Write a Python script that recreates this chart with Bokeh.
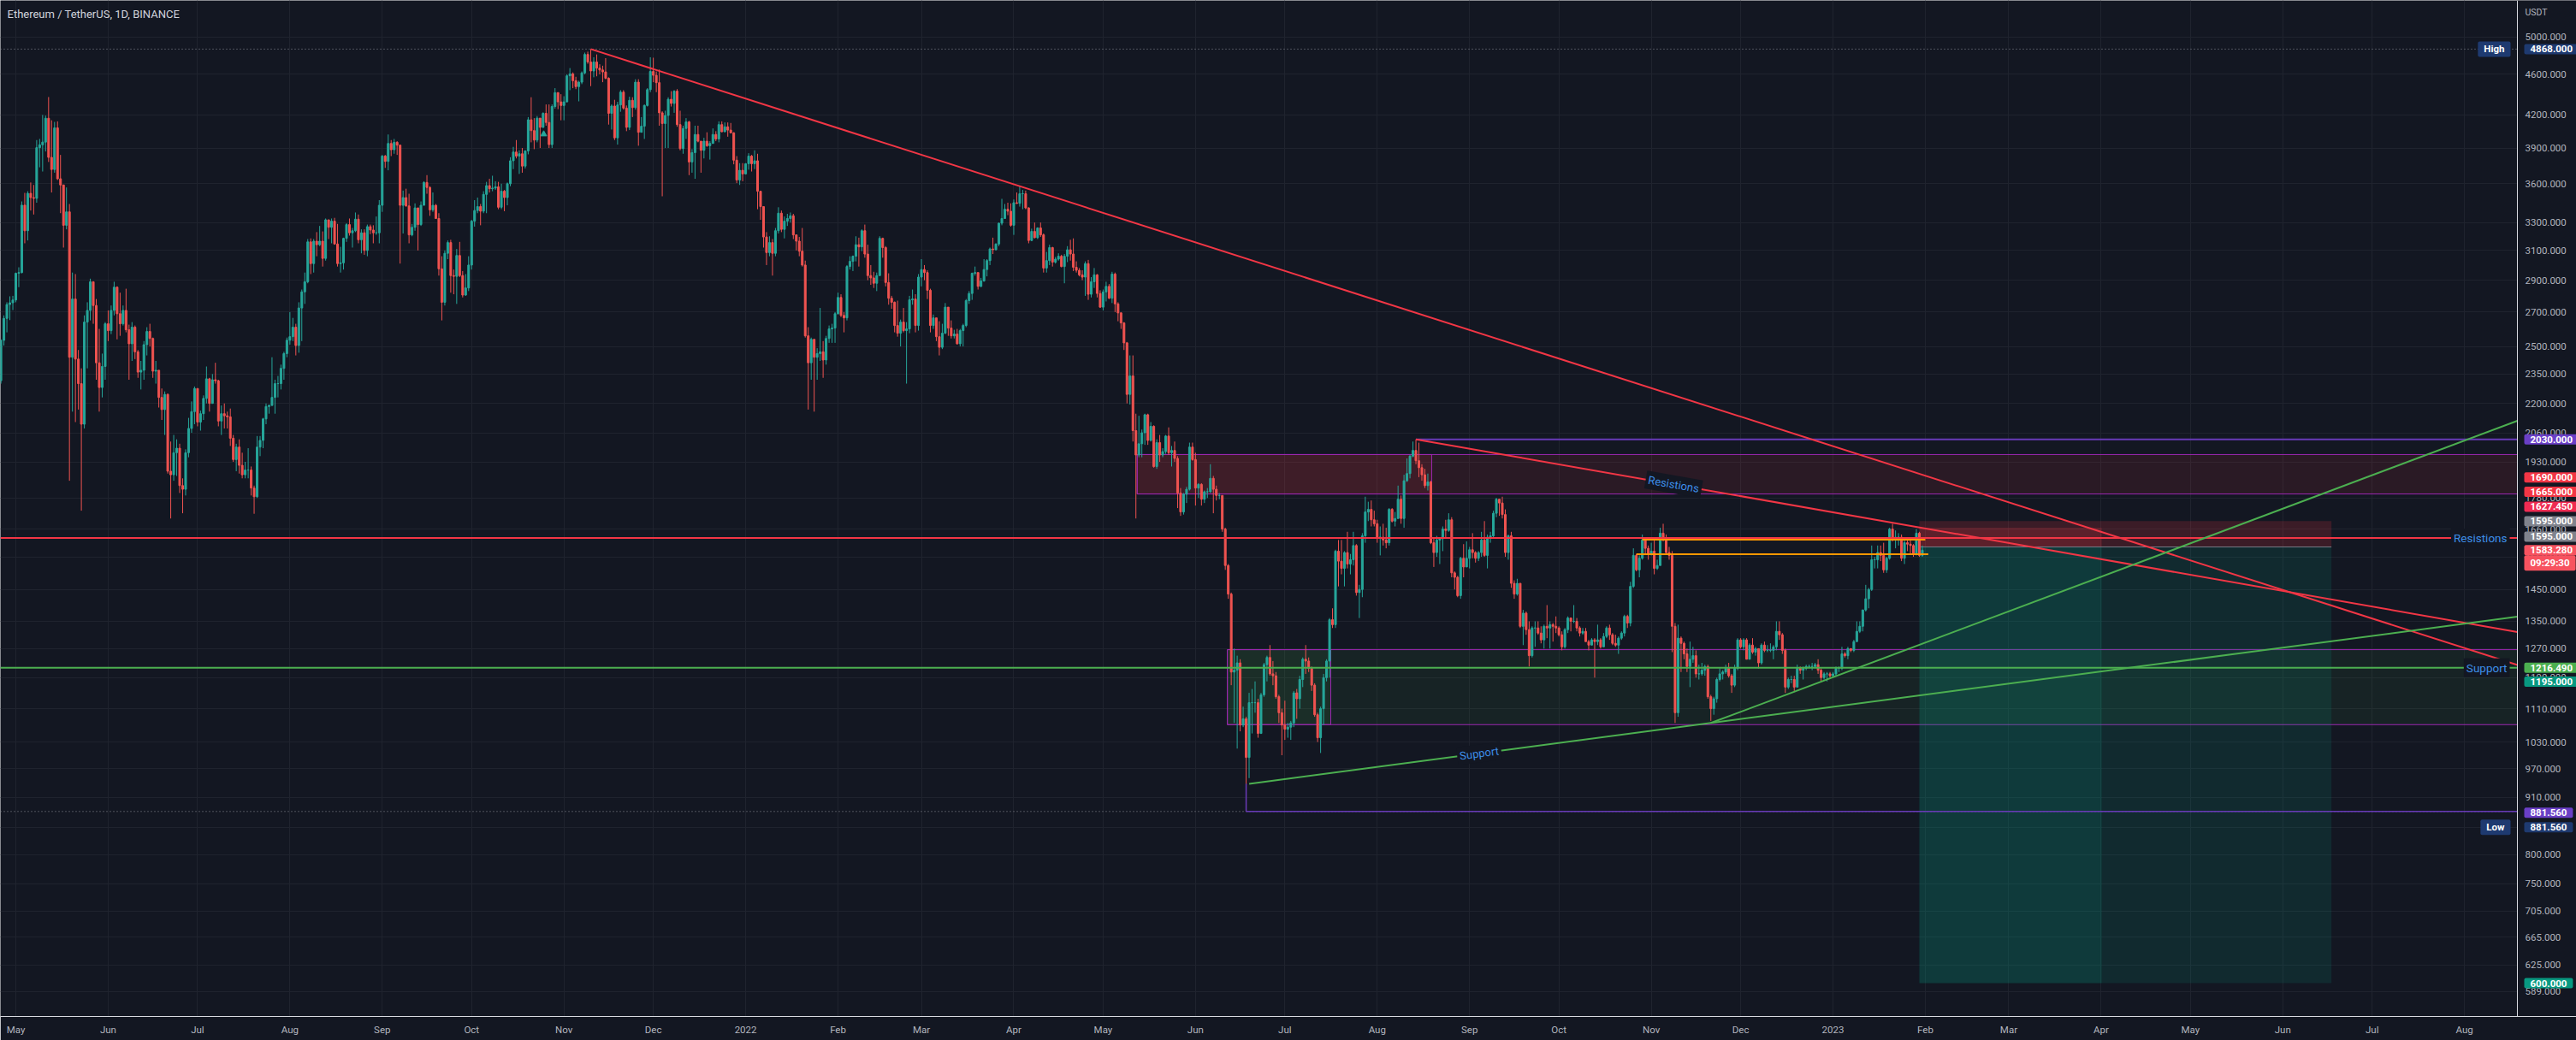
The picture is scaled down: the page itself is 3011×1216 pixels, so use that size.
import numpy as np
import pandas as pd
from bokeh.plotting import figure
from bokeh.models import FixedTicker, NumeralTickFormatter, Label
from bokeh.embed import file_html
from bokeh.resources import INLINE

# ---------------- data (ETH/USDT daily, Binance) ----------------
FIRST_CANDLE = "2021-04-26"
FIRST_OPEN = 2315.0

closes = [
    2534, 2662, 2746, 2757, 2774,  # Apr 2021 (26-30)
    2945, 2950, 3431, 3240, 3523, 3490, 3484, 3903, 3928, 3952, 4169, 3819, 3717, 4080, 3640, 3590, 3280, 3380, 2440, 2780, 2430, 2300, 2100, 2640, 2710, 2890, 2740, 2410, 2280, 2390, 2630,  # May
    2590, 2710, 2855, 2690, 2630, 2710, 2595, 2515, 2610, 2470, 2360, 2370, 2510, 2585, 2545, 2365, 2370, 2230, 2170, 2245, 1890, 1875, 1970, 1990, 1830, 1815, 1970, 2080, 2160, 2275,  # Jun
    2110, 2150, 2225, 2325, 2200, 2320, 2315, 2115, 2150, 2140, 2135, 2035, 1940, 1995, 1915, 1875, 1895, 1895, 1820, 1785, 1995, 2025, 2125, 2185, 2190, 2230, 2300, 2300, 2380, 2460, 2535,  # Jul
    2555, 2610, 2505, 2725, 2825, 2890, 3160, 3010, 3165, 3140, 3165, 3045, 3320, 3265, 3310, 3145, 3010, 3015, 3185, 3285, 3225, 3240, 3325, 3175, 3225, 3100, 3270, 3245, 3225, 3225, 3430,  # Aug
    3830, 3785, 3940, 3885, 3950, 3925, 3430, 3490, 3425, 3210, 3265, 3410, 3285, 3430, 3610, 3570, 3395, 3430, 3330, 2975, 2760, 3080, 3155, 2930, 2925, 3065, 2930, 2805, 2850, 3000,  # Sep
    3310, 3390, 3420, 3385, 3515, 3585, 3560, 3565, 3575, 3415, 3540, 3490, 3600, 3790, 3865, 3830, 3850, 3745, 3875, 4155, 4055, 3970, 4170, 4085, 4215, 4130, 3930, 4280, 4415, 4325, 4290,  # Oct
    4325, 4585, 4605, 4535, 4475, 4520, 4615, 4810, 4730, 4635, 4730, 4665, 4645, 4625, 4560, 4215, 4285, 3990, 4295, 4420, 4265, 4085, 4340, 4270, 4520, 4040, 4095, 4290, 4445, 4630,  # Nov
    4590, 4515, 4220, 4120, 4195, 4350, 4310, 4430, 4110, 3895, 4075, 4135, 3780, 3860, 4020, 3960, 3880, 3960, 3920, 3940, 4020, 3980, 4110, 4045, 4090, 4060, 4035, 3795, 3630, 3710, 3680,  # Dec
    3765, 3830, 3765, 3790, 3540, 3420, 3195, 3085, 3155, 3080, 3240, 3370, 3250, 3310, 3330, 3350, 3210, 3165, 3095, 3000, 2560, 2410, 2540, 2440, 2460, 2470, 2425, 2545, 2600, 2605, 2690,  # Jan 2022
    2790, 2680, 2665, 2990, 3025, 3060, 3140, 3125, 3240, 3075, 2930, 2915, 2880, 2930, 3185, 3120, 2885, 2785, 2760, 2620, 2575, 2640, 2590, 2600, 2775, 2780, 2620, 2920,  # Feb
    2970, 2950, 2835, 2620, 2665, 2555, 2495, 2575, 2730, 2605, 2560, 2570, 2515, 2590, 2620, 2770, 2815, 2945, 2950, 2860, 2895, 2970, 3030, 3110, 3105, 3145, 3295, 3330, 3400, 3385, 3280,  # Mar
    3450, 3445, 3520, 3520, 3410, 3170, 3235, 3190, 3260, 3210, 2980, 3030, 3120, 3020, 3040, 3060, 2990, 3060, 3105, 3075, 2985, 2965, 2935, 2920, 3010, 2810, 2890, 2935, 2815, 2730,  # Apr
    2825, 2860, 2785, 2940, 2750, 2695, 2635, 2520, 2245, 2340, 2070, 1960, 2010, 2060, 2145, 2025, 2090, 1910, 2015, 1960, 1975, 2045, 1970, 1980, 1945, 1800, 1725, 1795, 1815, 1995, 1940,  # May
    1820, 1835, 1775, 1805, 1805, 1860, 1815, 1790, 1790, 1660, 1530, 1435, 1205, 1210, 1230, 1070, 1085, 995, 1125, 1125, 1125, 1050, 1145, 1225, 1245, 1200, 1195, 1140, 1100, 1070,  # Jun
    1060, 1065, 1075, 1150, 1135, 1185, 1240, 1235, 1215, 1170, 1095, 1040, 1110, 1190, 1235, 1355, 1340, 1580, 1545, 1520, 1575, 1535, 1550, 1600, 1440, 1450, 1635, 1725, 1735, 1695, 1680,  # Jul
    1630, 1630, 1620, 1610, 1735, 1690, 1700, 1775, 1700, 1850, 1880, 1955, 1980, 1935, 1905, 1875, 1830, 1845, 1610, 1575, 1620, 1625, 1660, 1655, 1695, 1505, 1490, 1430, 1555, 1525, 1555,  # Aug
    1585, 1575, 1555, 1575, 1620, 1565, 1630, 1635, 1720, 1775, 1760, 1715, 1575, 1635, 1470, 1435, 1470, 1335, 1375, 1325, 1250, 1330, 1330, 1315, 1295, 1335, 1330, 1340, 1335, 1330,  # Sep
    1310, 1275, 1325, 1360, 1350, 1350, 1330, 1315, 1320, 1290, 1280, 1295, 1290, 1295, 1275, 1305, 1330, 1310, 1285, 1280, 1300, 1315, 1365, 1345, 1460, 1565, 1515, 1555, 1620, 1590, 1570,  # Oct
    1580, 1520, 1530, 1645, 1625, 1575, 1565, 1335, 1100, 1300, 1285, 1255, 1220, 1240, 1250, 1200, 1200, 1210, 1220, 1140, 1110, 1135, 1185, 1200, 1205, 1215, 1195, 1170, 1215, 1295,  # Nov
    1275, 1295, 1240, 1280, 1260, 1270, 1230, 1280, 1265, 1265, 1265, 1275, 1320, 1310, 1265, 1165, 1185, 1185, 1165, 1215, 1210, 1215, 1220, 1220, 1220, 1225, 1210, 1190, 1200, 1200, 1195,  # Dec
    1200, 1215, 1215, 1255, 1250, 1270, 1265, 1290, 1320, 1335, 1385, 1420, 1450, 1550, 1550, 1575, 1565, 1515, 1555, 1660, 1625, 1630, 1630, 1555, 1610, 1605, 1600, 1570, 1645, 1565, 1583.28,  # Jan 2023
]

highs = [
    2540, 2680, 2760, 2797, 2800,
    2950, 2985, 3460, 3527, 3540, 3610, 3590, 3970, 3980, 4200, 4194, 4372, 4150, 4135, 4140, 3840, 3565, 3570, 3440, 2950, 2940, 2480, 2380, 2680, 2760, 2910, 2890, 2780, 2600, 2460, 2640,
    2710, 2740, 2890, 2860, 2820, 2740, 2845, 2625, 2640, 2620, 2480, 2420, 2530, 2610, 2630, 2550, 2420, 2370, 2275, 2260, 2250, 2020, 2050, 2030, 2010, 1860, 1985, 2130, 2210, 2285,
    2275, 2165, 2240, 2390, 2330, 2350, 2410, 2320, 2190, 2200, 2160, 2175, 2050, 2010, 2030, 1970, 1930, 1990, 1910, 1830, 2045, 2045, 2130, 2200, 2195, 2440, 2320, 2340, 2400, 2470, 2550,
    2700, 2665, 2630, 2760, 2840, 2950, 3180, 3185, 3180, 3230, 3275, 3235, 3330, 3300, 3330, 3335, 3290, 3125, 3190, 3295, 3330, 3260, 3375, 3360, 3250, 3250, 3285, 3285, 3280, 3345, 3470,
    3840, 3840, 4020, 3970, 3980, 3960, 3930, 3545, 3560, 3520, 3290, 3445, 3400, 3460, 3620, 3670, 3580, 3530, 3440, 3370, 3060, 3100, 3170, 3175, 2970, 3110, 3160, 2960, 2940, 3060,
    3320, 3470, 3490, 3440, 3540, 3615, 3640, 3665, 3620, 3615, 3600, 3550, 3610, 3820, 3910, 3970, 3880, 3900, 3880, 4180, 4370, 4170, 4190, 4160, 4225, 4300, 4300, 4300, 4460, 4420, 4400,
    4380, 4600, 4665, 4620, 4575, 4535, 4630, 4830, 4840, 4868, 4780, 4810, 4705, 4690, 4770, 4570, 4300, 4345, 4325, 4440, 4440, 4290, 4375, 4370, 4550, 4550, 4180, 4300, 4460, 4780,
    4775, 4630, 4650, 4235, 4240, 4370, 4430, 4440, 4450, 4240, 4100, 4170, 4145, 3890, 4100, 4100, 3950, 3990, 4040, 3960, 4075, 4050, 4140, 4140, 4130, 4130, 4125, 4040, 3830, 3770, 3770,
    3770, 3855, 3840, 3880, 3850, 3540, 3420, 3230, 3200, 3180, 3260, 3415, 3390, 3345, 3365, 3375, 3365, 3210, 3195, 3260, 3030, 2610, 2550, 2460, 2490, 2725, 2530, 2560, 2620, 2630, 2700,
    2820, 2810, 2700, 3000, 3060, 3065, 3200, 3190, 3250, 3285, 3140, 3000, 2955, 2950, 3200, 3190, 3130, 2945, 2800, 2765, 2770, 2655, 2725, 2640, 2800, 2840, 2810, 2940,
    3040, 3000, 2965, 2845, 2685, 2665, 2645, 2630, 2755, 2730, 2650, 2595, 2600, 2600, 2630, 2780, 2830, 2950, 2990, 2950, 2915, 3040, 3040, 3120, 3190, 3150, 3300, 3480, 3440, 3450, 3445,
    3475, 3530, 3580, 3550, 3545, 3415, 3255, 3300, 3265, 3300, 3220, 3090, 3140, 3125, 3055, 3080, 3070, 3075, 3130, 3175, 3185, 3025, 2980, 2965, 3025, 3035, 2920, 2980, 2940, 2835,
    2840, 2890, 2875, 2955, 2950, 2760, 2700, 2640, 2525, 2450, 2450, 2150, 2140, 2075, 2150, 2150, 2110, 2095, 2030, 2050, 1990, 2050, 2085, 2000, 2020, 1955, 1820, 1800, 1825, 2015, 2015,
    1970, 1840, 1840, 1810, 1820, 1920, 1870, 1830, 1800, 1790, 1665, 1535, 1440, 1270, 1250, 1240, 1115, 1090, 1150, 1160, 1180, 1135, 1150, 1230, 1250, 1280, 1235, 1205, 1145, 1110,
    1130, 1075, 1080, 1155, 1160, 1195, 1245, 1280, 1245, 1220, 1175, 1100, 1115, 1200, 1240, 1360, 1390, 1585, 1620, 1620, 1580, 1650, 1570, 1650, 1605, 1465, 1645, 1785, 1765, 1770, 1730,
    1695, 1670, 1680, 1665, 1740, 1740, 1725, 1830, 1790, 1875, 1945, 1960, 2020, 2030, 2015, 1920, 1900, 1880, 1850, 1625, 1635, 1630, 1670, 1695, 1720, 1705, 1510, 1495, 1560, 1605, 1615,
    1595, 1645, 1580, 1580, 1650, 1690, 1640, 1650, 1730, 1780, 1775, 1785, 1735, 1640, 1650, 1480, 1485, 1470, 1385, 1380, 1350, 1335, 1350, 1350, 1335, 1340, 1400, 1350, 1345, 1365,
    1335, 1320, 1330, 1365, 1360, 1400, 1360, 1335, 1330, 1330, 1295, 1300, 1300, 1340, 1300, 1315, 1335, 1340, 1315, 1310, 1305, 1320, 1370, 1370, 1475, 1590, 1570, 1565, 1640, 1620, 1600,
    1610, 1620, 1550, 1665, 1680, 1640, 1595, 1580, 1345, 1340, 1305, 1290, 1270, 1290, 1275, 1265, 1225, 1230, 1225, 1225, 1145, 1140, 1190, 1215, 1210, 1225, 1230, 1200, 1225, 1300,
    1300, 1300, 1300, 1285, 1300, 1275, 1270, 1285, 1290, 1280, 1285, 1280, 1350, 1350, 1315, 1270, 1190, 1195, 1195, 1225, 1220, 1220, 1225, 1225, 1230, 1230, 1240, 1215, 1205, 1205, 1205,
    1205, 1220, 1220, 1275, 1260, 1275, 1270, 1295, 1350, 1350, 1385, 1465, 1455, 1600, 1560, 1600, 1600, 1610, 1560, 1665, 1680, 1655, 1645, 1640, 1620, 1630, 1625, 1605, 1660, 1650, 1600,
]

lows = [
    2300, 2505, 2580, 2652, 2712,
    2760, 2855, 2945, 3150, 3170, 3390, 3360, 3450, 3735, 3700, 3870, 3780, 3530, 3690, 3630, 3370, 3120, 3250, 1850, 2160, 2110, 2170, 1730, 2080, 2380, 2650, 2630, 2320, 2160, 2230, 2320,
    2530, 2570, 2680, 2540, 2560, 2620, 2580, 2320, 2420, 2430, 2330, 2270, 2320, 2450, 2500, 2330, 2300, 2180, 2120, 2050, 1880, 1700, 1850, 1870, 1800, 1720, 1790, 1950, 2060, 2100,
    2090, 2070, 2120, 2200, 2160, 2210, 2300, 2090, 2050, 2080, 2080, 2000, 1930, 1890, 1880, 1860, 1860, 1860, 1790, 1718, 1780, 1955, 1990, 2100, 2150, 2190, 2150, 2230, 2270, 2320, 2440,
    2510, 2530, 2450, 2465, 2530, 2750, 2880, 2940, 2950, 3060, 3130, 2990, 3030, 3180, 3150, 3140, 2990, 2950, 2970, 3160, 3205, 3120, 3230, 3150, 3080, 3070, 3060, 3215, 3150, 3210, 3150,
    3380, 3730, 3710, 3830, 3850, 3840, 3010, 3220, 3420, 3150, 3200, 3240, 3100, 3275, 3430, 3520, 3350, 3380, 3330, 2930, 2650, 2740, 3040, 2820, 2810, 2750, 2920, 2790, 2800, 2830,
    2970, 3270, 3370, 3280, 3370, 3370, 3530, 3540, 3550, 3400, 3400, 3385, 3430, 3580, 3720, 3810, 3680, 3690, 3725, 3845, 3950, 3890, 3950, 3900, 4080, 4100, 3900, 3900, 4260, 4255, 4150,
    4150, 4320, 4440, 4460, 4450, 4330, 4500, 4600, 4710, 4480, 4570, 4580, 4600, 4520, 4550, 4110, 4065, 3970, 3930, 4230, 4250, 4050, 4060, 4180, 4250, 3920, 4040, 3980, 4280, 4420,
    4520, 4420, 4100, 3500, 3900, 3900, 4280, 4220, 4090, 3880, 3850, 3980, 3670, 3690, 3640, 3950, 3690, 3810, 3910, 3800, 3940, 3960, 3950, 4040, 4040, 4000, 4030, 3760, 3605, 3590, 3620,
    3675, 3715, 3700, 3720, 3400, 3320, 3120, 3000, 3060, 2930, 3060, 3220, 3230, 3185, 3275, 3300, 3180, 3100, 3060, 2990, 2550, 2170, 2320, 2160, 2320, 2420, 2330, 2400, 2520, 2520, 2520,
    2685, 2670, 2580, 2650, 2970, 2960, 3025, 2990, 3095, 3050, 2900, 2870, 2850, 2830, 2930, 3050, 2860, 2745, 2720, 2580, 2555, 2500, 2580, 2300, 2575, 2745, 2580, 2590,
    2860, 2900, 2780, 2580, 2600, 2530, 2450, 2485, 2570, 2560, 2545, 2545, 2510, 2500, 2500, 2610, 2750, 2775, 2930, 2840, 2855, 2890, 2925, 3000, 3075, 3100, 3130, 3280, 3330, 3355, 3270,
    3210, 3440, 3420, 3400, 3400, 3150, 3165, 3185, 3180, 3195, 2950, 2950, 3000, 2990, 3010, 3030, 2985, 2880, 3020, 3030, 2960, 2950, 2925, 2900, 2800, 2775, 2790, 2850, 2790, 2725,
    2710, 2765, 2780, 2755, 2700, 2645, 2600, 2480, 2200, 2195, 2020, 1700, 1950, 1950, 2005, 2005, 2020, 1905, 1900, 1930, 1950, 1965, 1960, 1910, 1930, 1740, 1710, 1715, 1760, 1810, 1935,
    1750, 1780, 1750, 1760, 1780, 1800, 1720, 1770, 1775, 1650, 1515, 1420, 1170, 1075, 1015, 1055, 1065, 881.56, 950, 1050, 1100, 1040, 1050, 1140, 1180, 1195, 1170, 1135, 1075, 1000,
    1035, 1040, 1035, 1065, 1085, 1110, 1165, 1200, 1205, 1155, 1090, 1030, 1005, 1070, 1180, 1190, 1330, 1330, 1460, 1500, 1460, 1520, 1500, 1530, 1430, 1360, 1425, 1610, 1690, 1670, 1670,
    1610, 1565, 1600, 1590, 1600, 1685, 1670, 1700, 1680, 1665, 1845, 1860, 1950, 1920, 1865, 1850, 1820, 1810, 1605, 1525, 1560, 1535, 1580, 1625, 1650, 1490, 1450, 1425, 1420, 1490, 1525,
    1520, 1555, 1540, 1545, 1560, 1560, 1520, 1610, 1625, 1705, 1710, 1700, 1560, 1550, 1455, 1420, 1430, 1330, 1280, 1310, 1220, 1245, 1275, 1310, 1285, 1270, 1300, 1270, 1290, 1315,
    1305, 1265, 1270, 1315, 1320, 1345, 1320, 1305, 1310, 1290, 1265, 1280, 1190, 1280, 1270, 1275, 1300, 1295, 1280, 1275, 1255, 1295, 1305, 1330, 1335, 1455, 1510, 1490, 1550, 1570, 1550,
    1565, 1500, 1515, 1530, 1615, 1570, 1550, 1260, 1075, 1090, 1205, 1240, 1205, 1165, 1230, 1190, 1185, 1195, 1195, 1135, 1080, 1095, 1125, 1180, 1185, 1200, 1190, 1150, 1165, 1210,
    1270, 1265, 1240, 1240, 1255, 1250, 1215, 1225, 1260, 1260, 1260, 1240, 1265, 1295, 1255, 1150, 1160, 1175, 1155, 1165, 1200, 1185, 1210, 1215, 1210, 1215, 1200, 1180, 1185, 1180, 1190,
    1190, 1195, 1205, 1210, 1245, 1240, 1260, 1260, 1290, 1315, 1320, 1380, 1390, 1445, 1520, 1520, 1545, 1505, 1505, 1550, 1615, 1590, 1600, 1545, 1535, 1580, 1570, 1560, 1565, 1560, 1560,
]

# axis ticks / labels
price_ticks = [589, 625, 665, 705, 750, 800, 850, 910, 970, 1030, 1110, 1190, 1270, 1350, 1450,
               1560, 1660, 1780, 1930, 2060, 2200, 2350, 2500, 2700, 2900, 3100, 3300, 3600,
               3900, 4200, 4600, 5000]
month_labels = ["May", "Jun", "Jul", "Aug", "Sep", "Oct", "Nov", "Dec", "2022", "Feb", "Mar", "Apr",
                "May", "Jun", "Jul", "Aug", "Sep", "Oct", "Nov", "Dec", "2023", "Feb", "Mar", "Apr",
                "May", "Jun", "Jul", "Aug"]
month_starts = pd.date_range("2021-05-01", "2023-08-01", freq="MS")

# drawings: (date, price) anchors
red_trend = [("2021-11-10", 4868.0), ("2022-04-03", 3580.0)]
res_trend = [("2022-08-14", 2030.0), ("2023-01-21", 1684.0)]
sup_trend = [("2022-06-19", 938.0), ("2022-11-21", 1075.0)]
sup_steep = [("2022-11-21", 1075.0), ("2022-12-19", 1153.0)]
res_level = 1627.45
sup_level = 1216.49
ath_price = 4868.0
high_date = "2022-08-14"
low_price, low_date = 881.56, "2022-06-18"
level_2030 = 2030.0
res_box = dict(left="2022-05-12 10:00", inner="2022-08-19 07:00", bottom=1796.0, top=1962.0)
sup_box = dict(left="2022-06-11 17:00", inner="2022-07-16 10:00", bottom=1071.0, top=1267.0)
orange_hi = dict(start="2022-10-29", end="2023-02-01", price=1621.0)
orange_lo = dict(start="2022-10-27", end="2023-02-02", price=1569.0)
pos_entry, pos_target = 1595.0, 600.0
pos_start = "2023-01-30"
pos_a = dict(end="2023-06-17 08:00", stop=1690.0)
pos_b = dict(end="2023-04-01 05:00", stop=1665.0)
event_marker = ("2021-10-25 05:00", 4023.0)

# price-scale tags: (price, text, colour, vertical shift in px caused by stacking)
price_tags = [
    (4868.0, "4868.000", "#1e3a70", 0),
    (2030.0, "2030.000", "#6a3fc6", 0),
    (1690.0, "1690.000", "#f23645", 51),
    (1665.0, "1665.000", "#f23645", 42),
    (1627.45, "1627.450", "#ef2b52", 36.5),
    (1595.0, "1595.000", "#80838d", 30),
    (1595.0, "1595.000", "#80838d", 12),
    (1583.28, "1583.280", "#f7525f", 0),
    (1583.28, "09:29:30", "#f7525f", -15),
    (1216.49, "1216.490", "#4caf50", 0),
    (1195.0, "1195.000", "#089981", -7),
    (881.56, "881.560", "#6a3fc6", -1.5),
    (881.56, "881.560", "#1e3a70", -18.5),
    (600.0, "600.000", "#089981", 0),
]

# ---------------- helpers ----------------
ORIGIN = pd.Timestamp("2021-05-01")


def day(s):
    return (pd.Timestamp(s) - ORIGIN) / pd.Timedelta(days=1)


W, H = 3011, 1216
CHART_W, FRAME_H = 2942, 1188
X_START, X_END = -5.17, 839.75          # visible chart (up to price scale)
PX_DAY = CHART_W / (X_END - X_START)
X_FULL = X_START + W / PX_DAY            # frame covers price-scale strip too
Y_BOT, Y_TOP = 556.8, 5429.0
PX_LN = FRAME_H / np.log(Y_TOP / Y_BOT)

BG = "#131722"
GRID = "#1f232e"
UP, DOWN = "#26a69a", "#ef5350"
RED, GREEN, PURPLE, ORANGE = "#f23645", "#4caf50", "#673ab7", "#ff9800"
BLUE_TXT = "#3d8ee8"
AXIS_TXT = "#b2b5be"
FONT = "Roboto"

p = figure(width=W, height=H, y_axis_type="log", x_range=(X_START, X_FULL),
           y_range=(Y_BOT, Y_TOP), toolbar_location=None, output_backend="svg",
           y_axis_location="right", min_border_left=0, min_border_top=0,
           min_border_right=0, min_border_bottom=28,
           background_fill_color=BG, border_fill_color=BG)
p.outline_line_color = None

# axes
p.xaxis.ticker = FixedTicker(ticks=[day(m) for m in month_starts])
p.xaxis.major_label_overrides = {day(m): lab for m, lab in zip(month_starts, month_labels)}
p.yaxis.ticker = FixedTicker(ticks=price_ticks)
p.yaxis.formatter = NumeralTickFormatter(format="0.000")
p.yaxis.fixed_location = X_END
for ax in (p.xaxis[0], p.yaxis[0]):
    ax.axis_line_color = "#d8dae0"
    ax.axis_line_width = 1
    ax.major_tick_line_color = None
    ax.minor_tick_line_color = None
    ax.major_tick_out = 0
    ax.major_tick_in = 0
    ax.major_label_text_color = AXIS_TXT
    ax.major_label_text_font = FONT
    ax.major_label_text_font_size = "11.5px"
p.xaxis.major_label_standoff = 8
p.yaxis.major_label_standoff = 9
p.xgrid.grid_line_color = GRID
p.ygrid.grid_line_color = GRID


def ray(anchors, x_end=X_END):
    (d1, p1), (d2, p2) = anchors
    x1, x2 = day(d1), day(d2)
    k = (np.log(p2) - np.log(p1)) / (x2 - x1)
    return [x1, x_end], [p1, p1 * np.exp(k * (x_end - x1))]


def on_line(anchors, d):
    (d1, p1), (d2, p2) = anchors
    x1, x2 = day(d1), day(d2)
    k = (np.log(p2) - np.log(p1)) / (x2 - x1)
    return p1 * np.exp(k * (d - x1)), np.arctan(k * PX_LN / PX_DAY)


def make_label(**kw):
    pad = kw.pop("padding", None)
    rad = kw.pop("border_radius", None)
    lab = Label(**kw)
    if pad is not None:
        try:
            lab.padding = pad
        except Exception:
            pass
    if rad is not None:
        try:
            lab.border_radius = rad
        except Exception:
            pass
    p.add_layout(lab)
    return lab


# price-scale strip background (hides grid there)
p.quad(left=[X_END], right=[X_FULL], bottom=[Y_BOT], top=[Y_TOP], fill_color=BG, line_color=None)

# ---------------- zones ----------------
p.quad(left=[day(res_box["left"]), day(res_box["left"])], right=[X_END, day(res_box["inner"])],
       bottom=[res_box["bottom"]] * 2, top=[res_box["top"]] * 2,
       fill_color=RED, fill_alpha=0.10, line_color="#9c27b0", line_width=1)
p.quad(left=[day(sup_box["left"]), day(sup_box["left"])], right=[X_END, day(sup_box["inner"])],
       bottom=[sup_box["bottom"]] * 2, top=[sup_box["top"]] * 2,
       fill_color=GREEN, fill_alpha=0.08, line_color="#9c27b0", line_width=1)

# position tools (short)
for pos in (pos_a, pos_b):
    p.quad(left=[day(pos_start)], right=[day(pos["end"])], bottom=[pos_entry], top=[pos["stop"]],
           fill_color=RED, fill_alpha=0.18, line_color=None)
    p.quad(left=[day(pos_start)], right=[day(pos["end"])], bottom=[pos_target], top=[pos_entry],
           fill_color="#089981", fill_alpha=0.15, line_color=None)
p.line([day(pos_start), day(pos_a["end"])], [pos_entry, pos_entry], line_color="#787b86", line_width=1)

# high / low dotted markers
for lvl in (ath_price, low_price):
    p.line([X_START, X_END], [lvl, lvl], line_color="#8a8d96", line_dash="1 3", line_width=1)

# ---------------- candles ----------------
n = min(len(closes), len(highs), len(lows))
xd = day(FIRST_CANDLE) + np.arange(n)
c = np.array(closes[:n], dtype=float)
o = np.concatenate([[FIRST_OPEN], c[:-1]])
h = np.maximum(np.array(highs[:n], dtype=float), np.maximum(o, c))
lo = np.minimum(np.array(lows[:n], dtype=float), np.minimum(o, c))
up = c >= o
dn = ~up
for mask, col in ((up, UP), (dn, DOWN)):
    p.segment(xd[mask], h[mask], xd[mask], lo[mask], line_color=col, line_width=1)
    p.vbar(x=xd[mask], width=0.58, top=np.maximum(o[mask], c[mask]), bottom=np.minimum(o[mask], c[mask]),
           fill_color=col, line_color=col, line_width=1)

p.scatter([day(event_marker[0])], [event_marker[1]], marker="triangle", size=7,
          fill_color=UP, line_color=UP)

# ---------------- lines ----------------
p.line([X_START, X_END], [res_level, res_level], line_color=RED, line_width=2)
p.line([X_START, X_END], [sup_level, sup_level], line_color=GREEN, line_width=2)
p.line([day(high_date), X_END], [level_2030, level_2030], line_color=PURPLE, line_width=2)
p.line([day(low_date), X_END], [low_price, low_price], line_color=PURPLE, line_width=1.5)
p.line([day(low_date), day(low_date)], [low_price, sup_trend[0][1]], line_color=PURPLE, line_width=1.5)
for od in (orange_hi, orange_lo):
    p.line([day(od["start"]), day(od["end"])], [od["price"], od["price"]], line_color=ORANGE, line_width=2)

for anchors, col in ((red_trend, RED), (res_trend, RED), (sup_trend, GREEN), (sup_steep, GREEN)):
    xs, ys = ray(anchors)
    p.line(xs, ys, line_color=col, line_width=2)

# line texts
for anchors, d, txt in ((res_trend, day("2022-11-08 12:00"), "Resistions"),
                        (sup_trend, day("2022-09-04 06:00"), "Support")):
    pr, ang = on_line(anchors, d)
    make_label(x=d, y=pr, text=txt, angle=ang, text_align="center", text_baseline="middle",
               text_color=BLUE_TXT, text_font=FONT, text_font_size="13px",
               background_fill_color=BG, background_fill_alpha=1.0, padding=3)

for lvl, txt in ((res_level, "Resistions"), (sup_level, "Support")):
    make_label(x=X_END, y=lvl, x_offset=-9, text=txt, text_align="right", text_baseline="middle",
               text_color=BLUE_TXT, text_font=FONT, text_font_size="13.5px",
               background_fill_color=BG, background_fill_alpha=1.0, padding=3)

# ---------------- titles ----------------
make_label(x=X_START, y=Y_TOP, x_offset=8, y_offset=-16, text="Ethereum / TetherUS, 1D, BINANCE",
           text_align="left", text_baseline="middle", text_color="#d1d4dc",
           text_font=FONT, text_font_size="13px")
make_label(x=X_END, y=Y_TOP, x_offset=9, y_offset=-14, text="USDT", text_align="left",
           text_baseline="middle", text_color=AXIS_TXT, text_font=FONT, text_font_size="10.5px")

# ---------------- price scale tags ----------------
for pr, txt, bg, dy in price_tags:
    make_label(x=X_END, y=pr, x_offset=8, y_offset=dy, text=txt, text_align="left",
               text_baseline="middle", text_color="#ffffff", text_font=FONT,
               text_font_size="11.5px", text_font_style="bold",
               background_fill_color=bg, background_fill_alpha=1.0,
               padding=(7, 2), border_radius=2)
for pr, txt, dy in ((ath_price, "High", 0), (low_price, "Low", -18.5)):
    make_label(x=X_END, y=pr, x_offset=-8, y_offset=dy, text=txt, text_align="right",
               text_baseline="middle", text_color="#ffffff", text_font=FONT,
               text_font_size="11.5px", text_font_style="bold", background_fill_color="#1e3a70",
               background_fill_alpha=1.0, padding=(7, 2), border_radius=2)

open("out.html", "w").write(file_html(p, INLINE))
